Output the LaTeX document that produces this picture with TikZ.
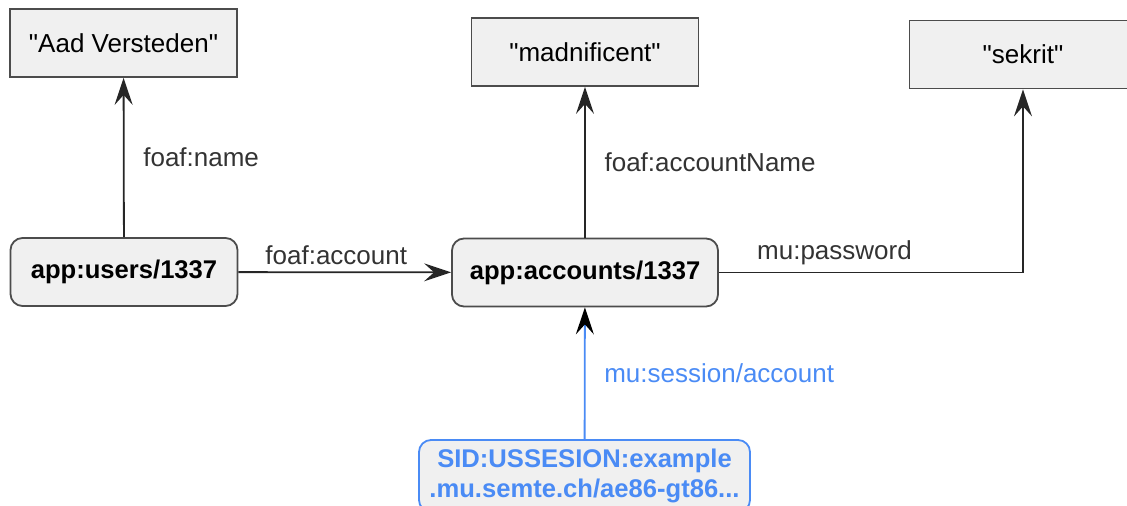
\documentclass[tikz,border=0pt]{standalone}
\usepackage{fontspec}
\setmainfont{Liberation Sans}
\usetikzlibrary{arrows.meta}
\definecolor{boxfill}{HTML}{F0F0F0}
\definecolor{sessblue}{HTML}{4A8BF5}
\tikzset{
  literal/.style={draw=black!70, fill=boxfill, line width=0.9pt, minimum width=113.5pt, minimum height=34pt, font=\fontsize{13}{15.5}\selectfont},
  resource/.style={literal, rounded corners=6pt, font=\fontsize{12.8}{15}\selectfont\bfseries},
  rel/.style={-{Stealth[length=13.5pt,width=9pt,inset=5pt]}, line width=0.9pt, draw=black!85},
  sess/.style={-{Stealth[length=13.5pt,width=9pt,inset=5pt,black]}, line width=0.9pt, draw=sessblue},
  lbl/.style={font=\fontsize{13}{15.5}\selectfont, text=black!80},
}
\begin{document}
\begin{tikzpicture}[x=0.5pt,y=-0.5pt]
\useasboundingbox (0,0) rectangle (1127,506);
\node[literal] (name) at (123.5,43) {\textquotedbl Aad Versteden\textquotedbl};
\node[literal] (acctname) at (585,52) {\textquotedbl madnificent\textquotedbl};
\node[literal] (secret) at (1023,54.5) {\textquotedbl sekrit\textquotedbl};
\node[resource] (user) at (124,272) {app:users/1337};
\node[resource, minimum width=133pt] (acct) at (585,272.5) {app:accounts/1337};
\node[resource, draw=sessblue, text=sessblue, align=center, minimum width=165.5pt, minimum height=36pt] (sid) at (584.5,476) {SID:USSESION:example\\.mu.semte.ch/ae86-gt86...};
\draw[rel] (user) -- (name) node[midway, right=6pt, lbl]{foaf:name};
\draw[rel] (acct) -- (acctname) node[midway, right=6pt, lbl]{foaf:accountName};
\draw[rel] (user) -- (acct) node[pos=0.46, above, lbl]{foaf:account};
\draw[rel] (acct.east) -| (secret.south) node[pos=0.19, above, lbl]{mu:password};
\draw[sess] (sid) -- (acct) node[midway, right=6pt, lbl, text=sessblue]{mu:session/account};
\end{tikzpicture}
\end{document}
